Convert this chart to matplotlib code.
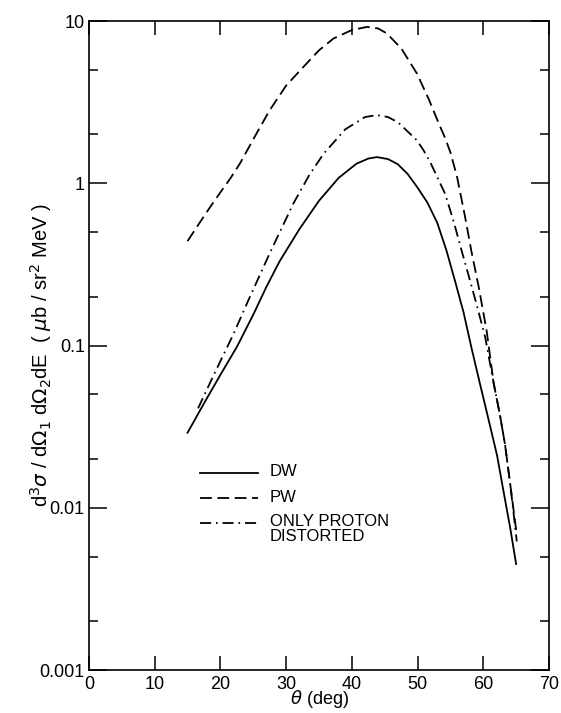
import matplotlib
matplotlib.use("Agg")
import matplotlib.pyplot as plt
from matplotlib.ticker import LogLocator, FixedLocator, NullFormatter, NullLocator

plt.rcParams['font.family'] = ['Liberation Sans', 'DejaVu Sans']
plt.rcParams['mathtext.fontset'] = 'dejavusans'
plt.rcParams['lines.scale_dashes'] = False

# ---- data ----
theta_dw = [15, 17.5, 20, 22.5, 25, 27, 29, 32, 35, 38, 40.7, 42.5, 43.8, 45.5, 47, 48.5, 50,
            51.5, 53, 54.4, 55.7, 57, 58.2, 59.5, 60.8, 62.1, 63.1, 64.1, 65]
dsig_dw = [0.029, 0.044, 0.066, 0.098, 0.155, 0.23, 0.33, 0.52, 0.78, 1.08, 1.32, 1.42, 1.45, 1.41, 1.31, 1.14, 0.94,
           0.76, 0.57, 0.385, 0.25, 0.16, 0.097, 0.058, 0.035, 0.021, 0.0125, 0.0075, 0.0045]

theta_pw = [15, 16.7, 18.4, 20, 21.5, 23, 25.5, 27.5, 30, 32.6, 35, 37.2, 40, 42.3, 44, 45.3, 47.5,
            49.9, 51.7, 53.4, 54.2, 55, 56, 57.2, 58.2, 59.3, 60.5, 61.6, 62.5, 63.3, 64.2, 65.1]
dsig_pw = [0.44, 0.56, 0.71, 0.88, 1.07, 1.33, 2.03, 2.82, 4.0, 5.2, 6.6, 7.8, 8.8, 9.2, 9.0, 8.4, 6.8,
           4.75, 3.3, 2.25, 1.9, 1.55, 1.1, 0.63, 0.38, 0.23, 0.124, 0.058, 0.038, 0.0247, 0.013, 0.0068]

theta_op = [16.6, 19, 22, 24.5, 27.5, 31.1, 33.5, 35.7, 39, 42, 43.8, 45.5, 47, 49.9, 50.9, 52, 54.2,
            55.5, 56.7, 58, 59.1, 60.3, 61.6, 62.5, 63.3, 64.2, 65.1]
dsig_op = [0.041, 0.066, 0.118, 0.20, 0.37, 0.75, 1.12, 1.52, 2.15, 2.56, 2.63, 2.56, 2.38, 1.84, 1.6, 1.33, 0.86,
           0.58, 0.385, 0.25, 0.172, 0.112, 0.058, 0.038, 0.0247, 0.013, 0.0062]

legend_labels = ["DW", "PW", "ONLY PROTON\nDISTORTED"]
x_ticks = [0, 10, 20, 30, 40, 50, 60, 70]
y_ticks = [0.001, 0.01, 0.1, 1, 10]
y_ticklabels = ["0.001", "0.01", "0.1", "1", "10"]

fig = plt.figure(figsize=(5.61, 7.13), dpi=100)
ax = fig.add_axes([0.1586, 0.0603, 0.820, 0.9102])

lw = 1.3
pw_dash = (8.5, 4)
op_dash = (8, 3.5, 1.2, 3.5)
ax.plot(theta_dw, dsig_dw, color='black', lw=lw)
ax.plot(theta_pw, dsig_pw, color='black', lw=lw, dashes=pw_dash)
ax.plot(theta_op, dsig_op, color='black', lw=lw, dashes=op_dash)

ax.set_yscale('log')
ax.set_xlim(0, 70)
ax.set_ylim(0.001, 10)

ax.xaxis.set_major_locator(FixedLocator(x_ticks))
ax.xaxis.set_minor_locator(NullLocator())
ax.set_xticklabels([str(t) for t in x_ticks])
ax.yaxis.set_major_locator(FixedLocator(y_ticks))
ax.set_yticklabels(y_ticklabels)
ax.yaxis.set_minor_locator(LogLocator(base=10, subs=(2, 5)))
ax.yaxis.set_minor_formatter(NullFormatter())

ax.tick_params(axis='both', which='both', direction='in', top=True, right=True, width=1.1, colors='black')
ax.tick_params(axis='x', which='major', length=10, labelsize=13, pad=4)
ax.tick_params(axis='y', which='major', length=13, labelsize=13, pad=3)
ax.tick_params(axis='y', which='minor', length=6.5)
for s in ax.spines.values():
    s.set_linewidth(1.2)

ax.set_xlabel(r'$\theta$ (deg)', fontsize=13, labelpad=-3)
ax.set_ylabel(r'd$^3\sigma$ / d$\Omega_1$ d$\Omega_2$dE  ( $\mu$b / sr$^2$ MeV )', fontsize=14.5)
ax.yaxis.set_label_coords(-0.075, 0.485)

# legend drawn in axes coordinates
leg_x0, leg_x1, txt_x = 0.241, 0.367, 0.393
rows = [0.304, 0.265, 0.227]
styles = [dict(), dict(dashes=pw_dash), dict(dashes=op_dash)]
for yv, lab, st in zip(rows, legend_labels, styles):
    ax.plot([leg_x0, leg_x1], [yv, yv], transform=ax.transAxes, color='black', lw=lw, **st)
    ax.text(txt_x, yv + 0.013, lab, transform=ax.transAxes, fontsize=12, va='top', ha='left',
            linespacing=1.0)

fig.savefig('out.png', dpi=100)
